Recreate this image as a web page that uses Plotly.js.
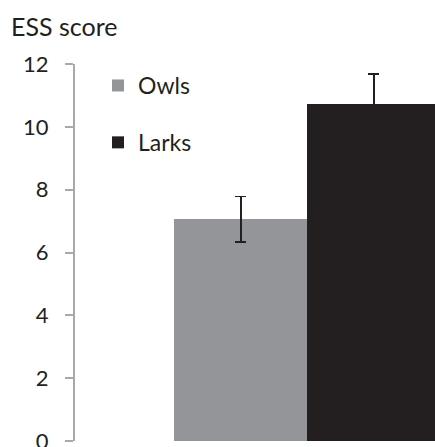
<!DOCTYPE html>
<html>
<head>
<meta charset="utf-8">
<script src="https://cdn.plot.ly/plotly-3.0.1.min.js"></script>
<style>html,body{margin:0;padding:0;background:#fff}#chart{width:435px;height:447px}</style>
</head>
<body>
<div id="chart"></div>
<script>
var groups = ["Owls", "Larks"];
var values = [7.06, 10.74];
var errors = [0.72, 0.95];
var colors = ["#939598", "#231f20"];
var yTicks = [0, 2, 4, 6, 8, 10, 12];

var traces = groups.map(function (g, i) {
  return {
    type: "bar",
    name: g,
    x: [g],
    y: [values[i]],
    width: [1],
    legendgroup: g,
    marker: { color: colors[i], line: { width: 0 } },
    error_y: { type: "data", array: [errors[i]], visible: true, color: "#231f20", thickness: 1.8, width: 5.5 },
    hoverinfo: "skip"
  };
});

var layout = {
  width: 435,
  height: 447,
  margin: { l: 75, r: 0, t: 64, b: 6, autoexpand: false },
  paper_bgcolor: "#ffffff",
  plot_bgcolor: "#ffffff",
  font: { family: "Lato, sans-serif", color: "#231f20" },
  title: {
    text: "ESS score",
    font: { size: 25, color: "#231f20" },
    xref: "container", yref: "container",
    x: 11 / 435, xanchor: "left",
    y: 1 - 27 / 447, yanchor: "middle"
  },
  barmode: "overlay",
  xaxis: {
    type: "category",
    categoryarray: groups,
    range: [-1.248, 1.459],
    showticklabels: false,
    ticks: "",
    showline: false,
    showgrid: false,
    zeroline: false,
    fixedrange: true
  },
  yaxis: {
    range: [0, 12],
    tickvals: yTicks,
    ticktext: yTicks.map(String),
    ticks: "outside",
    ticklen: 8,
    tickwidth: 2,
    tickcolor: "#a7a9ac",
    showline: true,
    linecolor: "#a7a9ac",
    linewidth: 2,
    showgrid: false,
    zeroline: false,
    automargin: false,
    ticklabeloverflow: "allow",
    ticklabelstandoff: 12,
    tickfont: { size: 22, color: "#231f20" },
    fixedrange: true
  },
  bargap: 0,
  showlegend: true,
  legend: {
    xref: "paper", yref: "paper",
    x: 23 / 360, xanchor: "left",
    y: (441 - 64) / 377, yanchor: "top",
    font: { size: 23, color: "#231f20" },
    tracegroupgap: 24,
    bgcolor: "rgba(0,0,0,0)",
    borderwidth: 0
  }
};

Plotly.newPlot("chart", traces, layout, { displayModeBar: false, staticPlot: true });
</script>
</body>
</html>
